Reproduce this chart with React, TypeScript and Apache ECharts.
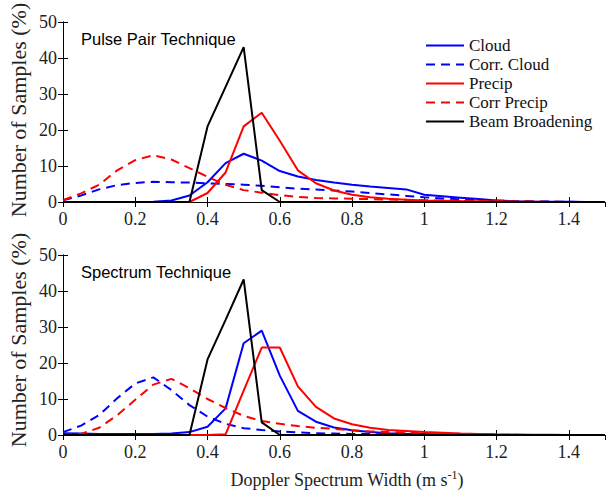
import React, { useEffect, useRef } from "react";
import * as echarts from "echarts";

const xs = [0, 0.05, 0.1, 0.15, 0.2, 0.25, 0.3, 0.35, 0.4, 0.45, 0.5, 0.55, 0.6, 0.65, 0.7, 0.75, 0.8, 0.85, 0.9, 0.95, 1.0, 1.05, 1.1, 1.15, 1.2, 1.25, 1.3, 1.35, 1.4, 1.45, 1.5];

const seriesNames = ["Cloud", "Corr. Cloud", "Precip", "Corr Precip", "Beam Broadening"];
const panelTitles = ["Pulse Pair Technique", "Spectrum Technique"];

// Pulse Pair Technique
const ppCloud = [0, 0, 0, 0, 0, 0.1, 0.4, 1.8, 5.5, 10.8, 13.4, 11.5, 8.6, 7.1, 6.1, 5.4, 4.8, 4.3, 3.9, 3.5, 2.0, 1.6, 1.2, 0.8, 0.4, 0.25, 0.15, 0.1, 0.05, 0, 0];
const ppCorrCloud = [0.5, 1.8, 3.5, 4.7, 5.3, 5.6, 5.5, 5.4, 5.2, 5.0, 4.8, 4.5, 4.1, 3.7, 3.5, 3.2, 2.9, 2.5, 2.1, 1.7, 1.3, 1.0, 0.75, 0.55, 0.4, 0.25, 0.15, 0.1, 0.05, 0, 0];
const ppPrecip = [0, 0, 0, 0, 0, 0, 0, 0, 2.5, 8.2, 21, 24.8, 17, 8.8, 5.2, 3.2, 2.0, 1.3, 0.9, 0.6, 0.45, 0.35, 0.25, 0.2, 0.15, 0.1, 0.05, 0, 0, 0, 0];
const ppCorrPrecip = [0.5, 2.4, 4.8, 8.8, 11.6, 13, 11.8, 9.4, 7, 4.8, 3.3, 2.6, 1.9, 1.4, 1.1, 1.0, 0.9, 0.8, 0.7, 0.6, 0.5, 0.4, 0.3, 0.25, 0.2, 0.15, 0.1, 0.05, 0, 0, 0];
const ppBeam = [0, 0, 0, 0, 0, 0, 0, 0, 21, 32, 43, 3.3, 0, 0, 0, 0, 0, 0, 0, 0, 0, 0, 0, 0, 0, 0, 0, 0, 0, 0, 0];

// Spectrum Technique
const spCloud = [0.5, 0.4, 0.3, 0.3, 0.3, 0.3, 0.4, 0.8, 2.3, 7.4, 25.5, 29, 16.5, 6.7, 3.7, 2.1, 1.3, 0.8, 0.5, 0.35, 0.25, 0.15, 0.1, 0.05, 0, 0, 0, 0, 0, 0, 0];
const spCorrCloud = [0.8, 2.6, 5.5, 10.2, 14.3, 16, 12.5, 8.3, 5.1, 3.1, 1.9, 1.4, 1.0, 0.7, 0.5, 0.4, 0.3, 0.25, 0.2, 0.15, 0.1, 0.05, 0, 0, 0, 0, 0, 0, 0, 0, 0];
const spPrecip = [0, 0, 0, 0, 0, 0, 0, 0, 0, 0.2, 12.3, 24.3, 24.3, 13.5, 7.8, 4.6, 3.0, 2.0, 1.4, 1.1, 0.8, 0.6, 0.4, 0.3, 0.2, 0.15, 0.1, 0.05, 0, 0, 0];
const spCorrPrecip = [0, 0.3, 2, 5.5, 9.8, 14, 15.6, 13, 10, 7.5, 5.3, 3.9, 3.1, 2.5, 2.0, 1.7, 1.3, 1.0, 0.8, 0.65, 0.5, 0.4, 0.3, 0.2, 0.1, 0.05, 0, 0, 0, 0, 0];
const spBeam = [0, 0, 0, 0, 0, 0, 0, 0, 21, 32, 43.2, 3.5, 0, 0, 0, 0, 0, 0, 0, 0, 0, 0, 0, 0, 0, 0, 0, 0, 0, 0, 0];

const panels = [
  [ppCloud, ppCorrCloud, ppPrecip, ppCorrPrecip, ppBeam],
  [spCloud, spCorrCloud, spPrecip, spCorrPrecip, spBeam],
];

const colors = ["#0000ff", "#0000ff", "#ff0000", "#ff0000", "#000000"];
const dashed = [false, true, false, true, false];

const SERIF = "'Liberation Serif', 'Times New Roman', serif";
const SANS = "'Liberation Sans', Arial, sans-serif";

export default function App() {
  const ref = useRef<HTMLDivElement>(null);
  useEffect(() => {
    if (!ref.current) return;
    const chart = echarts.init(ref.current, undefined, { renderer: "svg" });
    const gridTops = [22, 255];
    const grids = gridTops.map((t) => ({ left: 63, top: t, width: 542, height: 180, show: false }));

    const xAxes: any[] = [];
    const yAxes: any[] = [];
    const axisLine = { show: true, lineStyle: { color: "#000", width: 1 } };
    const tick = { show: true, inside: true, length: 5, lineStyle: { color: "#000", width: 1 } };
    gridTops.forEach((_, gi) => {
      ["bottom", "top"].forEach((pos) => {
        xAxes.push({
          gridIndex: gi, type: "value", position: pos, min: 0, max: 1.5, interval: 0.2,
          axisLine, axisTick: tick, splitLine: { show: false },
          axisLabel: {
            show: pos === "bottom", showMaxLabel: false, margin: 8,
            fontFamily: SERIF, fontSize: 18, color: "#222",
          },
        });
      });
      ["left", "right"].forEach((pos) => {
        yAxes.push({
          gridIndex: gi, type: "value", position: pos, min: 0, max: 50, interval: 10,
          axisLine, axisTick: tick, splitLine: { show: false },
          axisLabel: { show: pos === "left", margin: 6, fontFamily: SERIF, fontSize: 18, color: "#222" },
        });
      });
    });

    const series: any[] = [];
    panels.forEach((sets, gi) => {
      sets.forEach((vals, si) => {
        series.push({
          name: seriesNames[si], type: "line", xAxisIndex: gi * 2, yAxisIndex: gi * 2,
          data: xs.map((x, i) => [x, vals[i]]),
          showSymbol: false, symbol: "none",
          lineStyle: { color: colors[si], width: 2, type: dashed[si] ? [9, 6] : "solid" },
          itemStyle: { color: colors[si] },
          z: si === 4 ? 3 : 2,
        });
      });
    });

    chart.setOption({
      animation: false,
      textStyle: { fontFamily: SERIF },
      grid: grids,
      xAxis: xAxes,
      yAxis: yAxes,
      series,
      legend: {
        data: seriesNames, orient: "vertical", left: 425, top: 36, padding: 0,
        itemWidth: 38, itemHeight: 14, itemGap: 0,
        itemStyle: { opacity: 0 },
        textStyle: { fontFamily: SERIF, fontSize: 17, color: "#111", lineHeight: 19 },
      },
      graphic: [
        { type: "text", left: 81, top: 30, style: { text: panelTitles[0], font: `16.5px ${SANS}`, fill: "#000" } },
        { type: "text", left: 81, top: 263, style: { text: panelTitles[1], font: `16.5px ${SANS}`, fill: "#000" } },
        { type: "text", x: 18, y: 110, rotation: Math.PI / 2, style: { text: "Number of Samples (%)", font: `22px ${SERIF}`, fill: "#222", align: "center", verticalAlign: "middle" } },
        { type: "text", x: 18, y: 340, rotation: Math.PI / 2, style: { text: "Number of Samples (%)", font: `22px ${SERIF}`, fill: "#222", align: "center", verticalAlign: "middle" } },
        {
          type: "text", x: 347, y: 480,
          style: {
            text: "{a|Doppler Spectrum Width (m s}{s|-1}{a|)}",
            align: "center", verticalAlign: "middle",
            rich: {
              a: { fontFamily: SERIF, fontSize: 18, fill: "#222", lineHeight: 22 },
              s: { fontFamily: SERIF, fontSize: 12, fill: "#222", lineHeight: 22, verticalAlign: "top", padding: [0, 0, 8, 0] },
            },
          },
        },
      ],
    });
    return () => chart.dispose();
  }, []);
  return (
    <div style={{ position: "absolute", left: 0, top: 0, width: 606, height: 492, background: "#fff" }}>
      <div ref={ref} style={{ width: 606, height: 492 }} />
    </div>
  );
}
